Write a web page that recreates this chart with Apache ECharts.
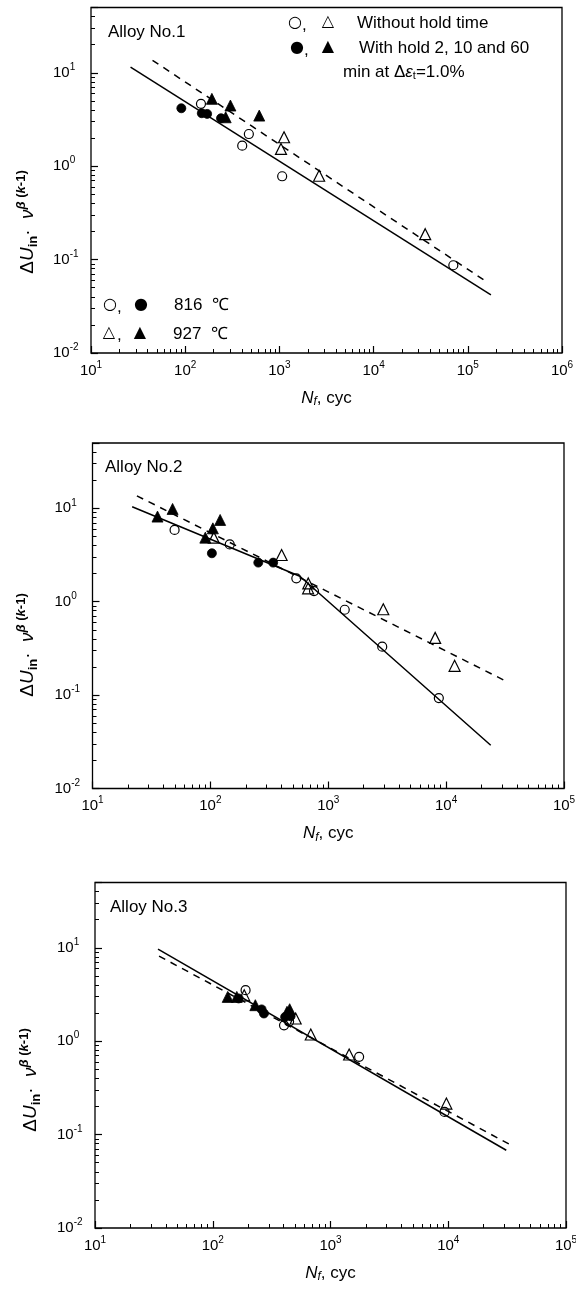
<!DOCTYPE html>
<html>
<head>
    <meta charset="utf-8">
    <title>ΔU_in · ν^β(k-1) vs N_f</title>
    <script src="https://cdn.jsdelivr.net/npm/echarts@6.0.0/dist/echarts.min.js"></script>
    <style>
        html, body { margin: 0; padding: 0; background: #ffffff; }
        #main { width: 576px; height: 1290px; }
    </style>
</head>
<body>
<div id="main"></div>
<script>
// data, each point is [N_f (cycles), ΔU_in·ν^β(k-1)]

// Alloy No.1
var a1OpenCircle = [[147, 4.65], [474, 2.21], [403, 1.66], [1070, 0.78], [70200, 0.087]];
var a1OpenTri = [[1120, 2.04], [1040, 1.53], [2640, 0.79], [35300, 0.187]];
var a1FullCircle = [[91, 4.17], [150, 3.69], [171, 3.63], [240, 3.26]];
var a1FullTri = [[192, 5.26], [302, 4.46], [269, 3.34], [611, 3.48]];
var a1Solid = [[26.3, 11.5], [176000, 0.042]];
var a1Dashed = [[45, 13.6], [154000, 0.059]];

// Alloy No.2
var a2OpenCircle = [[49.7, 5.86], [146, 4.1], [536, 1.78], [757, 1.3], [1380, 0.82], [2870, 0.33], [8670, 0.093]];
var a2OpenTri = [[107, 4.85], [402, 3.16], [677, 1.57], [675, 1.39], [2930, 0.83], [8070, 0.41], [11800, 0.206]];
var a2FullCircle = [[103, 3.3], [255, 2.62], [341, 2.62]];
var a2FullTri = [[35.6, 8.15], [47.8, 9.84], [90.6, 4.85], [105, 6.1], [121, 7.5]];
var a2Solid = [[21.7, 10.4], [574, 1.87], [23900, 0.029]];
var a2Dashed = [[23.8, 13.6], [30800, 0.145]];

// Alloy No.3
var a3OpenCircle = [[190, 3.52], [403, 1.48], [445, 1.62], [1750, 0.68], [9300, 0.175]];
var a3OpenTri = [[185, 3.1], [506, 1.75], [680, 1.18], [1440, 0.72], [9640, 0.215]];
var a3FullCircle = [[166, 2.87], [260, 2.19], [272, 1.98], [412, 1.82], [458, 1.85]];
var a3FullTri = [[134, 2.98], [160, 2.98], [230, 2.43], [427, 2.06], [450, 2.2]];
var a3Solid = [[34.3, 9.68], [31100, 0.068]];
var a3Dashed = [[35, 8.15], [34200, 0.077]];

// axis ranges and minor tick values
var xMin = 10;
var xMax = [1e6, 1e5, 1e5];
var yMin = 0.01;
var yMax = 50;
var minorMult = [2, 3, 4, 5, 6, 7, 8, 9];
var alloyNames = ['Alloy No.1', 'Alloy No.2', 'Alloy No.3'];

var FONT = '"Liberation Sans", Arial, sans-serif';
var SYM = '"DejaVu Sans", sans-serif';

// plot boxes, in page pixels
var boxes = [
    {left: 91, top: 7.5, width: 471, height: 345.5},
    {left: 92.5, top: 443, width: 471.5, height: 345.5},
    {left: 95, top: 882.5, width: 471, height: 345.5}
];

var chart = echarts.init(document.getElementById('main'), null, {renderer: 'canvas'});

// 10^n labels
var powRich = {
    sup: {fontSize: 10, fontFamily: FONT, color: '#000', padding: [0, 0, 11, 0]}
};
function powLabel(v) {
    var l = Math.log10(v);
    var e = Math.round(l);
    if (Math.abs(l - e) > 1e-6) return '';
    return '10{sup|' + e + '}';
}

// minor tick positions in exponent space (for the tick-only axes)
function minorTicks(lo, hi) {
    var out = [];
    for (var e = Math.floor(Math.log10(lo)); e < Math.ceil(Math.log10(hi)); e++) {
        for (var k = 0; k < minorMult.length; k++) {
            var v = minorMult[k] * Math.pow(10, e);
            if (v > lo && v < hi) out.push(Math.log10(v));
        }
    }
    return out;
}

var grids = [], xAxes = [], yAxes = [], series = [], graphics = [];

boxes.forEach(function (b, i) {
    grids.push({
        left: b.left, top: b.top, width: b.width, height: b.height,
        show: true, borderColor: '#000', borderWidth: 1.3,
        backgroundColor: 'transparent', containLabel: false, outerBoundsMode: 'none'
    });
});

// main log axes (index 0..2)
boxes.forEach(function (b, i) {
    xAxes.push({
        type: 'log', logBase: 10, gridIndex: i, min: xMin, max: xMax[i], position: 'bottom',
        axisLine: {show: false, onZero: false},
        axisTick: {show: true, inside: true, length: 7, lineStyle: {color: '#000', width: 1.2}},
        axisLabel: {
            show: true, margin: 7, color: '#000', fontSize: 15, fontFamily: FONT,
            formatter: powLabel, rich: powRich, showMinLabel: true, showMaxLabel: true, hideOverlap: false
        },
        splitLine: {show: false}
    });
    yAxes.push({
        type: 'log', logBase: 10, gridIndex: i, min: yMin, max: yMax, position: 'left',
        axisLine: {show: false, onZero: false},
        axisTick: {show: true, inside: true, length: 7, lineStyle: {color: '#000', width: 1.2}},
        axisLabel: {
            show: true, margin: 38, align: 'left', color: '#000', fontSize: 15, fontFamily: FONT,
            formatter: powLabel, rich: powRich, showMinLabel: true, showMaxLabel: true, hideOverlap: false
        },
        splitLine: {show: false}
    });
});

// minor ticks only (index 3..5), exponent space
boxes.forEach(function (b, i) {
    xAxes.push({
        type: 'value', gridIndex: i, min: Math.log10(xMin), max: Math.log10(xMax[i]), position: 'bottom',
        axisLine: {show: false, onZero: false}, axisLabel: {show: false}, splitLine: {show: false},
        axisTick: {show: true, inside: true, length: 4, lineStyle: {color: '#000', width: 1},
            customValues: minorTicks(xMin, xMax[i])}
    });
    yAxes.push({
        type: 'value', gridIndex: i, min: Math.log10(yMin), max: Math.log10(yMax), position: 'left',
        axisLine: {show: false, onZero: false}, axisLabel: {show: false}, splitLine: {show: false},
        axisTick: {show: true, inside: true, length: 4, lineStyle: {color: '#000', width: 1},
            customValues: minorTicks(yMin, yMax)}
    });
});

function lineSeries(i, data, dashed) {
    return {
        type: 'line', xAxisIndex: i, yAxisIndex: i, data: data,
        showSymbol: false, symbol: 'none', silent: true, z: 2,
        lineStyle: {color: '#000', width: 1.5, type: dashed ? [7, 6] : 'solid'}
    };
}
function markSeries(i, data, shape, filled) {
    return {
        type: 'scatter', xAxisIndex: i, yAxisIndex: i, data: data,
        symbol: shape, symbolSize: shape === 'triangle' ? 11 : 9, silent: true, z: 3,
        itemStyle: filled
            ? {color: '#000', borderColor: '#000', borderWidth: 0.8, opacity: 1}
            : {color: 'rgba(0,0,0,0)', borderColor: '#000', borderWidth: 1.2, opacity: 1}
    };
}

var sets = [
    [a1Solid, a1Dashed, a1OpenCircle, a1OpenTri, a1FullCircle, a1FullTri],
    [a2Solid, a2Dashed, a2OpenCircle, a2OpenTri, a2FullCircle, a2FullTri],
    [a3Solid, a3Dashed, a3OpenCircle, a3OpenTri, a3FullCircle, a3FullTri]
];
sets.forEach(function (s, i) {
    series.push(lineSeries(i, s[0], false));
    series.push(lineSeries(i, s[1], true));
    series.push(markSeries(i, s[2], 'circle', false));
    series.push(markSeries(i, s[3], 'triangle', false));
    series.push(markSeries(i, s[4], 'circle', true));
    series.push(markSeries(i, s[5], 'triangle', true));
});

// text helper
function txt(x, y, text, opt) {
    opt = opt || {};
    return {
        type: 'text', x: x, y: y, rotation: opt.rotation || 0, silent: true, z: 10,
        style: {
            text: text, fill: '#000',
            fontSize: opt.size || 17, fontFamily: opt.family || FONT,
            fontStyle: opt.style || 'normal', fontWeight: opt.weight || 'normal',
            align: opt.align || 'left', textAlign: opt.align || 'left',
            verticalAlign: 'middle', textVerticalAlign: 'middle',
            rich: opt.rich
        }
    };
}

var yTitleRich = {
    it: {fontSize: 19, fontStyle: 'italic', fontFamily: FONT},
    sub: {fontSize: 13, fontWeight: 'bold', fontFamily: FONT, padding: [10, 0, 0, 0]},
    sup: {fontSize: 13, fontWeight: 'bold', fontFamily: FONT, padding: [0, 0, 13, 0]},
    supi: {fontSize: 13, fontWeight: 'bold', fontStyle: 'italic', fontFamily: FONT, padding: [0, 0, 13, 0]}
};
var xTitleRich = {
    it: {fontSize: 17, fontStyle: 'italic', fontFamily: FONT},
    subi: {fontSize: 12, fontStyle: 'italic', fontFamily: FONT, padding: [8, 0, 0, 0]}
};
var yTitleX = [28, 28, 31];
var yTitleY = [222, 645, 1080];
var alloyPos = [[108, 32], [105, 467], [110, 907]];

boxes.forEach(function (b, i) {
    graphics.push(txt(alloyPos[i][0], alloyPos[i][1], alloyNames[i]));
    graphics.push(txt(b.left + b.width / 2, b.top + b.height + 45, '{it|N}{subi|f}, cyc', {align: 'center', rich: xTitleRich}));
    graphics.push(txt(yTitleX[i], yTitleY[i], 'Δ{it|U}{sub|in}·  {it|ν}{supi|β}{sup| (}{supi|k}{sup|-1)}',
        {align: 'center', size: 19, rotation: Math.PI / 2, rich: yTitleRich}));
});

// legend (panel 1)
graphics.push(txt(295, 23, '○', {family: SYM, size: 16, align: 'center'}));
graphics.push(txt(302, 25, ',', {size: 17}));
graphics.push(txt(328, 22, '△', {family: SYM, size: 16, align: 'center'}));
graphics.push(txt(357, 23, 'Without hold time'));
graphics.push(txt(297, 48, '●', {family: SYM, size: 16, align: 'center'}));
graphics.push(txt(304, 50, ',', {size: 17}));
graphics.push(txt(328, 47, '▲', {family: SYM, size: 16, align: 'center'}));
graphics.push(txt(359, 48, 'With hold 2, 10 and 60'));
graphics.push(txt(343, 72, 'min at Δ{it|ε}{sub|t}=1.0%', {rich: {
    it: {fontSize: 17, fontStyle: 'italic', fontFamily: FONT},
    sub: {fontSize: 11, fontFamily: FONT, padding: [8, 0, 0, 0]}
}}));

graphics.push(txt(110, 305, '○', {family: SYM, size: 16, align: 'center'}));
graphics.push(txt(117, 307, ',', {size: 17}));
graphics.push(txt(141, 305, '●', {family: SYM, size: 16, align: 'center'}));
graphics.push(txt(174, 305, '816  ℃'));
graphics.push(txt(109, 333, '△', {family: SYM, size: 16, align: 'center'}));
graphics.push(txt(117, 335, ',', {size: 17}));
graphics.push(txt(140, 333, '▲', {family: SYM, size: 16, align: 'center'}));
graphics.push(txt(173, 334, '927  ℃'));

var option = {
    backgroundColor: '#ffffff',
    animation: false,
    grid: grids,
    xAxis: xAxes,
    yAxis: yAxes,
    series: series,
    graphic: graphics
};

chart.setOption(option);

window.onresize = function () {
    chart.resize();
};
</script>
</body>
</html>
